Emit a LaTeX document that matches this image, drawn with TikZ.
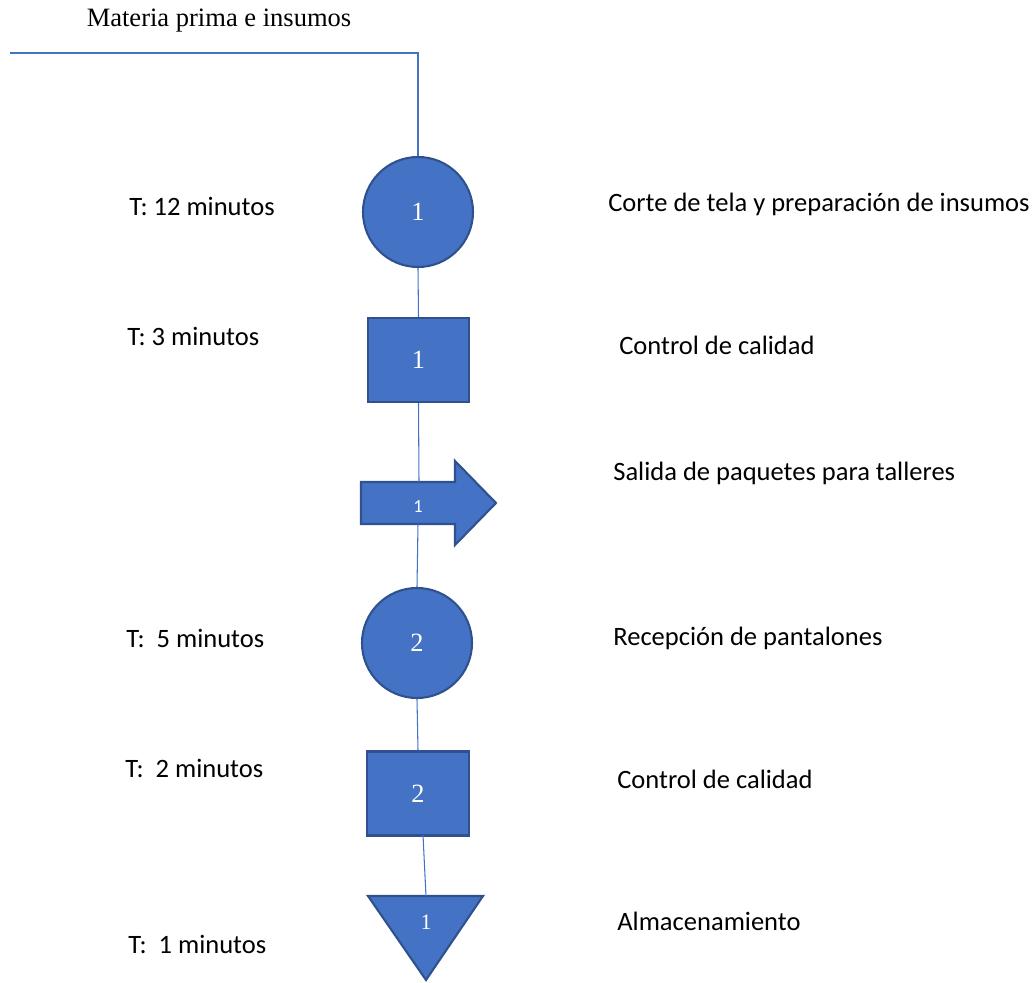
\documentclass[tikz,border=0pt]{standalone}
\usepackage{fontspec}
\setmainfont{Liberation Serif}
\newfontfamily\calibri{Carlito}
\definecolor{officeblue}{HTML}{4472C4}
\definecolor{officeedge}{HTML}{2F528F}
\tikzset{
    opshape/.style={fill=officeblue, draw=officeedge, line width=1.2pt},
    numtext/.style={text=white, font=\fontsize{15}{18}\selectfont, inner sep=0pt},
    lbl/.style={anchor=base west, inner sep=0pt, font=\calibri\fontsize{15.1}{18}\selectfont},
}
\begin{document}
\begin{tikzpicture}[x=0.02cm, y=-0.02cm]
    \useasboundingbox (0,0) rectangle (1036,983);

    \node[anchor=base, inner sep=0pt, font=\fontsize{15.1}{18}\selectfont] (title) at (219,27) {Materia prima e insumos};
    \coordinate (start) at (10,53);

    \begin{scope}[every node/.style={circle, opshape, minimum size=2.2cm, inner sep=0pt, text=white, font=\fontsize{15}{18}\selectfont}]
        \node (c1) at (418,212) {1};
        \node (c2) at (417,643) {2};
    \end{scope}

    \begin{scope}[every node/.style={rectangle, opshape, minimum width=2.03cm, minimum height=1.68cm, inner sep=0pt, text=white, font=\fontsize{15}{18}\selectfont}]
        \node (s1) at (418.5,360) {1};
        \node (s2) at (418,793.5) {2};
    \end{scope}

    % salida (arrow) and almacenamiento (triangle)
    \filldraw[opshape] (361,482) -- (455,482) -- (455,461) -- (496,503) -- (455,545) -- (455,524) -- (361,524) -- cycle;
    \node[numtext, font=\calibri\fontsize{10.5}{12}\selectfont] (a1) at (418,507) {1};
    \coordinate (a1n) at (419,482);
    \coordinate (a1s) at (418,524);

    \filldraw[opshape, line join=miter] (368,896) -- (483,896) -- (426,980) -- cycle;
    \node[numtext, font=\fontsize{12.5}{14}\selectfont] (t1) at (426,922) {1};
    \coordinate (t1n) at (426,896);
    \coordinate (s2b) at (423,835);

    \begin{scope}[every edge/.style={draw=officeblue, line width=0.6pt}]
        \path [-] (start) edge[to path={-| (\tikztotarget)}] (c1.north);
        \path [-] (c1.south) edge (s1.north);
        \path [-] (s1.south) edge (a1n);
        \path [-] (a1s) edge (c2.north);
        \path [-] (c2.south) edge (s2.north);
        \path [-] (s2b) edge (t1n);
    \end{scope}

    \begin{scope}[every node/.style={lbl}]
        \node (tc1) at (129,216) {T: 12 minutos};
        \node (ts1) at (127,346) {T: 3 minutos};
        \node (tc2) at (126,648) {T:\ \ 5 minutos};
        \node (ts2) at (125,778) {T:\ \ 2 minutos};
        \node (tt1) at (128,953) {T:\ \ 1 minutos};

        \node (dc1) at (608,212) {Corte de tela y preparación de insumos};
        \node (ds1) at (619,355) {Control de calidad};
        \node (da1) at (613,481) {Salida de paquetes para talleres};
        \node (dc2) at (613,645) {Recepción de pantalones};
        \node (ds2) at (617,788) {Control de calidad};
        \node (dt1) at (617,930) {Almacenamiento};
    \end{scope}
\end{tikzpicture}
\end{document}
